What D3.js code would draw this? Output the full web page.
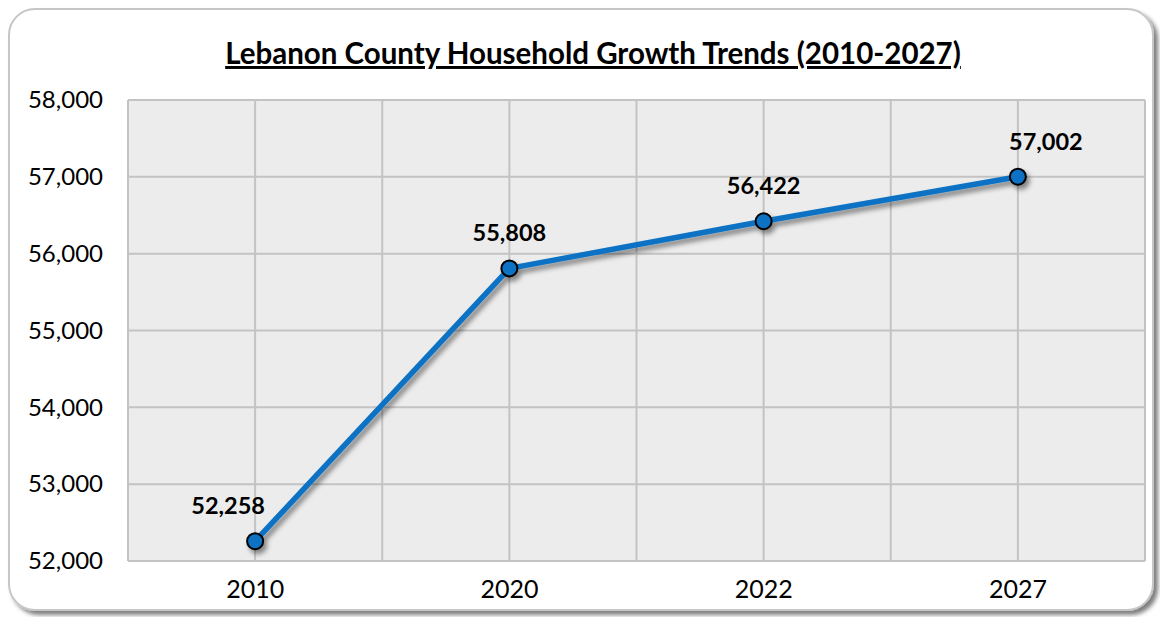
<!DOCTYPE html>
<html>
<head>
<meta charset="utf-8">
<script src="https://cdn.jsdelivr.net/npm/d3@7"></script>
<style>
  body { margin: 0; background: #fff; }
  svg { display: block; }
  text { font-family: Lato, "Open Sans", sans-serif; fill: #000; }
</style>
</head>
<body>
<svg id="chart" width="1160" height="617"></svg>
<script>
var years = ["2010", "2020", "2022", "2027"];
var households = [52258, 55808, 56422, 57002];
var yTicks = [52000, 53000, 54000, 55000, 56000, 57000, 58000];

var width = 1160, height = 617;
var margin = { top: 100, right: 15, bottom: 56, left: 128 };

var svg = d3.select("#chart");
var defs = svg.append("defs");

var frameShadow = defs.append("filter").attr("id", "frameShadow")
    .attr("x", "-5%").attr("y", "-5%").attr("width", "110%").attr("height", "110%");
frameShadow.append("feDropShadow").attr("dx", 4).attr("dy", 4)
    .attr("stdDeviation", 2).attr("flood-color", "#000").attr("flood-opacity", 0.5);

var lineShadow = defs.append("filter").attr("id", "lineShadow")
    .attr("x", "-10%").attr("y", "-10%").attr("width", "120%").attr("height", "120%");
lineShadow.append("feDropShadow").attr("dx", 3).attr("dy", 4)
    .attr("stdDeviation", 2.5).attr("flood-color", "#000").attr("flood-opacity", 0.45);

// outer frame
svg.append("rect")
    .attr("x", 9).attr("y", 9)
    .attr("width", 1144).attr("height", 601)
    .attr("rx", 26).attr("ry", 26)
    .attr("fill", "#fff")
    .attr("stroke", "#c6c6c6").attr("stroke-width", 2)
    .attr("filter", "url(#frameShadow)");

// title
svg.append("text")
    .attr("x", 593).attr("y", 64)
    .attr("text-anchor", "middle")
    .style("font-size", "29.5px").style("font-weight", "bold")
    .style("text-decoration", "underline")
    .text("Lebanon County Household Growth Trends (2010-2027)");

var x = d3.scaleBand()
    .domain(years)
    .range([margin.left, width - margin.right]);

var y = d3.scaleLinear()
    .domain([52000, 58000])
    .range([height - margin.bottom, margin.top]);

// plot area
svg.append("rect")
    .attr("x", margin.left).attr("y", margin.top)
    .attr("width", width - margin.right - margin.left)
    .attr("height", height - margin.bottom - margin.top)
    .attr("fill", "#ececec");

// vertical gridlines at band edges and centres
var vLines = [];
years.forEach(function (d) {
    vLines.push(x(d));
    vLines.push(x(d) + x.bandwidth() / 2);
});
vLines.push(x.range()[1]);

svg.append("g").selectAll("line")
    .data(vLines).enter().append("line")
    .attr("x1", function (d) { return d; })
    .attr("x2", function (d) { return d; })
    .attr("y1", margin.top).attr("y2", height - margin.bottom)
    .attr("stroke", "#c3c3c3").attr("stroke-width", 2);

svg.append("g").selectAll("line")
    .data(yTicks).enter().append("line")
    .attr("x1", margin.left).attr("x2", width - margin.right)
    .attr("y1", function (d) { return y(d); })
    .attr("y2", function (d) { return y(d); })
    .attr("stroke", "#c3c3c3").attr("stroke-width", 2);

// y axis labels
var yAxis = d3.axisLeft(y).tickValues(yTicks).tickFormat(d3.format(",")).tickSize(0).tickPadding(25);
var gy = svg.append("g")
    .attr("transform", "translate(" + margin.left + ",0)")
    .call(yAxis);
gy.select(".domain").remove();
gy.selectAll("text").style("font-size", "24px").style("font-family", "Lato, sans-serif");

// x axis labels
var xAxis = d3.axisBottom(x).tickSize(0).tickPadding(19);
var gx = svg.append("g")
    .attr("transform", "translate(0," + (height - margin.bottom) + ")")
    .call(xAxis);
gx.select(".domain").remove();
gx.selectAll("text").style("font-size", "25px").style("font-family", "Lato, sans-serif");

var cx = function (d, i) { return x(years[i]) + x.bandwidth() / 2; };

var line = d3.line()
    .x(function (d, i) { return cx(d, i); })
    .y(function (d) { return y(d); });

var series = svg.append("g").attr("filter", "url(#lineShadow)");

series.append("path")
    .datum(households)
    .attr("d", line)
    .attr("fill", "none")
    .attr("stroke", "#0a72c4")
    .attr("stroke-width", 5.5)
    .attr("stroke-linejoin", "round");

series.selectAll("circle")
    .data(households).enter().append("circle")
    .attr("cx", cx)
    .attr("cy", function (d) { return y(d); })
    .attr("r", 8)
    .attr("fill", "#0a72c4")
    .attr("stroke", "#000")
    .attr("stroke-width", 2);

var last = households.length - 1;
svg.append("g").selectAll("text")
    .data(households).enter().append("text")
    .attr("x", function (d, i) { return cx(d, i) + (i === 0 ? -27 : i === last ? 28 : 0); })
    .attr("y", function (d) { return y(d) - 27; })
    .attr("text-anchor", "middle")
    .style("font-size", "23.5px").style("font-weight", "bold")
    .text(function (d) { return d3.format(",")(d); });
</script>
</body>
</html>
